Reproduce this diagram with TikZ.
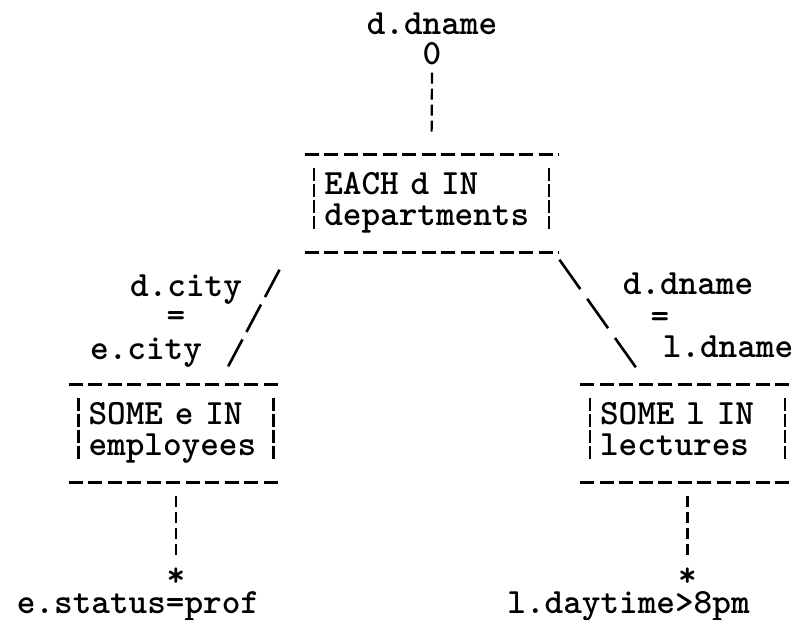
\documentclass[tikz,border=0pt]{standalone}
\usepackage{fontspec}
\usepackage{tikz}
\usetikzlibrary{calc}
\newcommand{\typefont}{\fontsize{35.5}{31}\selectfont\ttfamily\bfseries}
\tikzstyle{qtext}=[
  font=\typefont, inner sep=0pt, anchor=base
]
\tikzstyle{qbox}=[
  font=\typefont, align=left, inner xsep=19.5pt, inner ysep=0pt,
  minimum height=98pt, execute at end node=\strut
]
\tikzstyle{boxline}=[
  line width=3.2pt, dash pattern=on 14pt off 5.5pt
]
\tikzstyle{sidebar}=[
  line width=2.2pt, dash pattern=on 13pt off 3pt
]
\tikzstyle{vlink}=[
  line width=2.2pt, dash pattern=on 11pt off 5pt
]

\begin{document}
\begin{tikzpicture}[x=1pt,y=1pt]
  \useasboundingbox (0,0) rectangle (797,620);
  % quantifier boxes
  \node (dep) at (431.5,416.5) [qbox, text width=214.5pt] {EACH d IN\\departments};
  \node (emp) at ($(dep) + (-255.5,-230)$) [qbox, text width=175pt] {SOME e IN\\employees};
  \node (lec) at ($(dep) + (256,-230)$) [qbox, text width=175pt] {SOME l IN\\lectures};
  \foreach \b in {dep,emp,lec} {
    \draw [boxline] (\b.north west) -- (\b.north east);
    \draw [boxline] (\b.south west) -- (\b.south east);
    \draw [sidebar] ($(\b.north west)+(9.75,-14)$) -- ($(\b.south west)+(9.75,21)$);
    \draw [sidebar] ($(\b.north east)+(-9.75,-14)$) -- ($(\b.south east)+(-9.75,21)$);
  }
  % output
  \node (dd) at ($(dep) + (0.5,168.5)$) [qtext] {d.dname};
  \node (out) at ($(dep) + (0.5,138.5)$) [qtext] {0};
  \draw [vlink, shorten <=7pt, shorten >=21pt] (out.south) -- (dep.north);
  % join predicates
  \node (dcity) at ($(emp) + (10,136.5)$) [qtext] {d.city};
  \node (eqe) at ($(emp) + (0,106.5)$) [qtext] {=};
  \node (ecity) at ($(emp) + (-30,73.5)$) [qtext] {e.city};
  \draw [line width=2.6pt, dash pattern=on 31pt off 8.5pt]
    ($(dep.south west)+(-25,-17)$) -- ($(emp.north east)+(-55,18)$);
  \node (ddn) at ($(lec) + (0.5,138.5)$) [qtext] {d.dname};
  \node (eql) at ($(lec) + (-27.5,105.5)$) [qtext] {=};
  \node (ldn) at ($(lec) + (40.5,75.5)$) [qtext] {l.dname};
  \draw [line width=2.6pt, dash pattern=on 36pt off 12pt]
    ($(dep.south east)+(1,-7)$) -- ($(lec.north west)+(55.5,17)$);
  % selections
  \node (estar) at ($(emp) + (0,-153.5)$) [qtext] {*};
  \node (estat) at ($(emp) + (-38,-180.5)$) [qtext] {e.status=prof};
  \draw [vlink, shorten <=13pt, shorten >=32pt] (emp.south) -- (estar.base);
  \node (lstar) at ($(lec) + (0,-153.5)$) [qtext] {*};
  \node (lday) at ($(lec) + (-59,-180.5)$) [qtext] {l.daytime>8pm};
  \draw [vlink, shorten <=13pt, shorten >=32pt] (lec.south) -- (lstar.base);
\end{tikzpicture}
\end{document}
